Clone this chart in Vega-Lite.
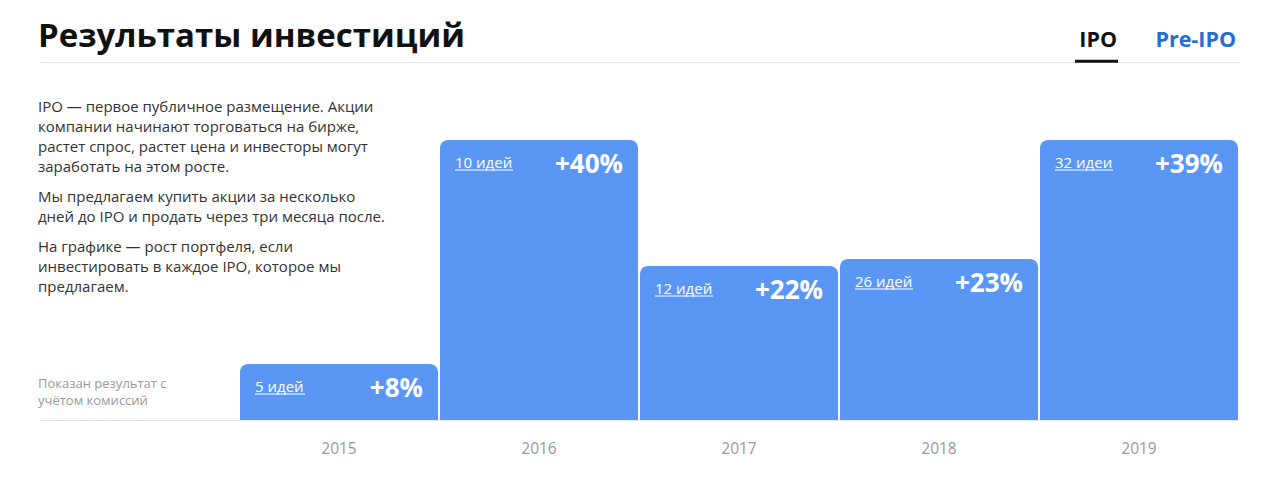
{
  "$schema": "https://vega.github.io/schema/vega-lite/v6.json",
  "width": 1200,
  "height": 420,
  "autosize": "none",
  "padding": {"left": 38, "top": 0, "right": 25, "bottom": 58},
  "background": "#ffffff",
  "config": {
    "view": {"stroke": null},
    "font": "Open Sans"
  },
  "datasets": {
    "results": [
      {"year": "2015", "ideas": "5 идей", "result": "+8%", "value": 8},
      {"year": "2016", "ideas": "10 идей", "result": "+40%", "value": 40},
      {"year": "2017", "ideas": "12 идей", "result": "+22%", "value": 22},
      {"year": "2018", "ideas": "26 идей", "result": "+23%", "value": 23},
      {"year": "2019", "ideas": "32 идеи", "result": "+39%", "value": 40}
    ],
    "notes": [
      {"block": "title", "column": "notes", "text": "Результаты инвестиций"},
      {"block": "ipo", "column": "2019", "text": "IPO"},
      {"block": "preipo", "column": "2019", "text": "Pre-IPO"},
      {"block": "p1", "column": "notes", "text": "IPO — первое публичное размещение. Акции\nкомпании начинают торговаться на бирже,\nрастет спрос, растет цена и инвесторы могут\nзаработать на этом росте."},
      {"block": "p2", "column": "notes", "text": "Мы предлагаем купить акции за несколько\nдней до IPO и продать через три месяца после."},
      {"block": "p3", "column": "notes", "text": "На графике — рост портфеля, если\nинвестировать в каждое IPO, которое мы\nпредлагаем."},
      {"block": "foot", "column": "notes", "text": "Показан результат с\nучётом комиссий"}
    ]
  },
  "layer": [
    {
      "data": {"name": "results"},
      "mark": {"type": "bar", "color": "#5a97f5", "cornerRadiusTopLeft": 8, "cornerRadiusTopRight": 8},
      "encoding": {
        "x": {
          "field": "year",
          "type": "nominal",
          "scale": {"domain": ["notes", "2015", "2016", "2017", "2018", "2019"], "range": [2, 1200], "paddingInner": 0.01, "paddingOuter": 0},
          "axis": {
            "title": null,
            "domain": false,
            "ticks": false,
            "labelAngle": 0,
            "labelPadding": 21,
            "labelFontSize": 15.5,
            "labelColor": "#9a9a9a",
            "labelFont": "Open Sans",
            "labelExpr": "datum.value == 'notes' ? '' : datum.value"
          }
        },
        "y": {
          "field": "value",
          "type": "quantitative",
          "scale": {"domain": [0, 60], "nice": false},
          "axis": {"values": [0.07, 51.14], "grid": true, "gridColor": "#e4e4e4", "gridWidth": 1, "labels": false, "ticks": false, "domain": false, "title": null}
        }
      }
    },
    {
      "data": {"name": "results"},
      "mark": {"type": "text", "color": "#ffffff", "fontSize": 15, "align": "left", "baseline": "alphabetic", "dx": 15, "dy": 28},
      "encoding": {
        "x": {"field": "year", "type": "nominal", "bandPosition": 0},
        "y": {"field": "value", "type": "quantitative"},
        "text": {"field": "ideas", "type": "nominal"}
      }
    },
    {
      "data": {"name": "results"},
      "transform": [{"filter": "datum.year == '2015'"}],
      "mark": {"type": "tick", "color": "#ffffff", "opacity": 1, "thickness": 1, "size": 50, "xOffset": -59, "yOffset": 30},
      "encoding": {
        "x": {"field": "year", "type": "nominal"},
        "y": {"field": "value", "type": "quantitative"}
      }
    },
    {
      "data": {"name": "results"},
      "transform": [{"filter": "datum.year != '2015'"}],
      "mark": {"type": "tick", "color": "#ffffff", "opacity": 1, "thickness": 1, "size": 58, "xOffset": -55, "yOffset": 30},
      "encoding": {
        "x": {"field": "year", "type": "nominal"},
        "y": {"field": "value", "type": "quantitative"}
      }
    },
    {
      "data": {"name": "results"},
      "mark": {"type": "text", "color": "#ffffff", "fontSize": 26, "fontWeight": "bold", "align": "right", "baseline": "alphabetic", "dx": -15, "dy": 33},
      "encoding": {
        "x": {"field": "year", "type": "nominal", "bandPosition": 1},
        "y": {"field": "value", "type": "quantitative"},
        "text": {"field": "result", "type": "nominal"}
      }
    },
    {
      "data": {"name": "notes"},
      "transform": [{"filter": "datum.block == 'title'"}],
      "mark": {"type": "text", "color": "#111111", "fontSize": 33, "fontWeight": "bold", "align": "left", "baseline": "alphabetic", "dx": -2},
      "encoding": {
        "x": {"field": "column", "type": "nominal", "bandPosition": 0},
        "y": {"datum": 53.33, "type": "quantitative"},
        "text": {"field": "text", "type": "nominal"}
      }
    },
    {
      "data": {"name": "notes"},
      "transform": [{"filter": "datum.block == 'ipo'"}],
      "mark": {"type": "text", "color": "#111111", "fontSize": 21.5, "fontWeight": "bold", "align": "right", "baseline": "alphabetic", "dx": -121},
      "encoding": {
        "x": {"field": "column", "type": "nominal", "bandPosition": 1},
        "y": {"datum": 53.24, "type": "quantitative"},
        "text": {"field": "text", "type": "nominal"}
      }
    },
    {
      "data": {"name": "notes"},
      "transform": [{"filter": "datum.block == 'ipo'"}],
      "mark": {"type": "tick", "color": "#111111", "opacity": 1, "thickness": 3, "size": 43, "xOffset": -42.5},
      "encoding": {
        "x": {"field": "column", "type": "nominal"},
        "y": {"datum": 51.24, "type": "quantitative"}
      }
    },
    {
      "data": {"name": "notes"},
      "transform": [{"filter": "datum.block == 'preipo'"}],
      "mark": {"type": "text", "color": "#1f6fd6", "fontSize": 21.5, "fontWeight": "bold", "align": "right", "baseline": "alphabetic", "dx": -2},
      "encoding": {
        "x": {"field": "column", "type": "nominal", "bandPosition": 1},
        "y": {"datum": 53.24, "type": "quantitative"},
        "text": {"field": "text", "type": "nominal"}
      }
    },
    {
      "data": {"name": "notes"},
      "transform": [{"filter": "datum.block == 'p1'"}],
      "mark": {"type": "text", "color": "#333333", "fontSize": 15, "align": "left", "baseline": "alphabetic", "dx": -2, "lineBreak": "\n", "lineHeight": 20},
      "encoding": {
        "x": {"field": "column", "type": "nominal", "bandPosition": 0},
        "y": {"datum": 43.96, "type": "quantitative"},
        "text": {"field": "text", "type": "nominal"}
      }
    },
    {
      "data": {"name": "notes"},
      "transform": [{"filter": "datum.block == 'p2'"}],
      "mark": {"type": "text", "color": "#333333", "fontSize": 15, "align": "left", "baseline": "alphabetic", "dx": -2, "lineBreak": "\n", "lineHeight": 20},
      "encoding": {
        "x": {"field": "column", "type": "nominal", "bandPosition": 0},
        "y": {"datum": 31.14, "type": "quantitative"},
        "text": {"field": "text", "type": "nominal"}
      }
    },
    {
      "data": {"name": "notes"},
      "transform": [{"filter": "datum.block == 'p3'"}],
      "mark": {"type": "text", "color": "#333333", "fontSize": 15, "align": "left", "baseline": "alphabetic", "dx": -2, "lineBreak": "\n", "lineHeight": 20},
      "encoding": {
        "x": {"field": "column", "type": "nominal", "bandPosition": 0},
        "y": {"datum": 24, "type": "quantitative"},
        "text": {"field": "text", "type": "nominal"}
      }
    },
    {
      "data": {"name": "notes"},
      "transform": [{"filter": "datum.block == 'foot'"}],
      "mark": {"type": "text", "color": "#9a9a9a", "fontSize": 13, "align": "left", "baseline": "alphabetic", "dx": -2, "lineBreak": "\n", "lineHeight": 17},
      "encoding": {
        "x": {"field": "column", "type": "nominal", "bandPosition": 0},
        "y": {"datum": 4.53, "type": "quantitative"},
        "text": {"field": "text", "type": "nominal"}
      }
    }
  ]
}
